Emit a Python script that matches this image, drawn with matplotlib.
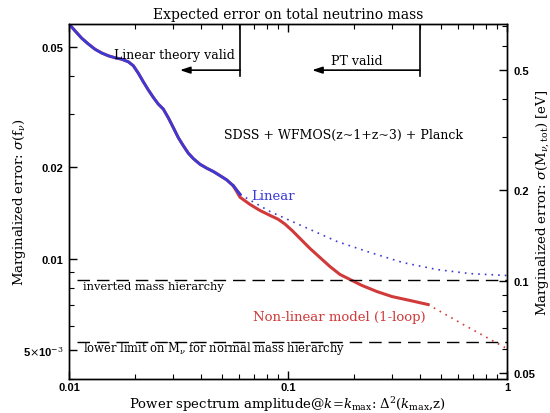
import numpy as np
import matplotlib
matplotlib.use("Agg")
import matplotlib.pyplot as plt
from matplotlib.ticker import FixedLocator, FixedFormatter, LogLocator, NullFormatter

# shared part of both forecasts (linear == 1-loop below k_max ~ 0.06)
x_common = [0.0100, 0.01065, 0.01143, 0.01225, 0.01314, 0.01410, 0.01512, 0.01622,
            0.01740, 0.01866, 0.01966, 0.02072, 0.02184, 0.02302, 0.02426, 0.02557,
            0.02695, 0.02841, 0.02994, 0.03156, 0.03327, 0.03506, 0.03696, 0.03964,
            0.04253, 0.04559, 0.04892, 0.05250, 0.05627, 0.06037]
f_common = [0.0596, 0.0566, 0.0535, 0.0512, 0.0492, 0.0478, 0.0468, 0.0461,
            0.0456, 0.0447, 0.0434, 0.0410, 0.0384, 0.0361, 0.0341, 0.0324,
            0.0312, 0.0292, 0.0271, 0.0251, 0.0236, 0.0223, 0.0214, 0.0205,
            0.0199, 0.0194, 0.0188, 0.0182, 0.0174, 0.0163]

# linear theory extrapolated beyond its validity (dotted)
x_lin_ext = [0.06037, 0.0827, 0.1171, 0.1674, 0.2368, 0.3350, 0.4790, 0.6777, 1.0]
f_lin_ext = [0.0163, 0.01431, 0.01278, 0.01139, 0.01048, 0.00970, 0.00920, 0.00892, 0.00879]

# 1-loop PT model: solid up to 0.4, dotted beyond
x_nl = [0.05627, 0.06037, 0.06707, 0.07450, 0.08276, 0.09001, 0.09690, 0.1043, 0.1134,
        0.1260, 0.1400, 0.1555, 0.1728, 0.1919, 0.2177, 0.2549, 0.2985, 0.3606, 0.4358]
f_nl = [0.0174, 0.01595, 0.01510, 0.01442, 0.01389, 0.01350, 0.01300, 0.01239, 0.01166,
        0.01080, 0.01008, 0.00941, 0.00886, 0.00853, 0.00815, 0.00778, 0.00749, 0.00727,
        0.00705]
x_nl_ext = [0.4358, 0.6430, 1.0]
f_nl_ext = [0.00705, 0.00601, 0.00504]

F_INVERTED = 0.00852
F_NORMAL = 0.00530
K_LINEAR = 0.0605
K_PT = 0.40
MNU_PER_FNU = 11.9  # 94 eV * Omega_m h^2

BLUE = "#3a3ad6"
RED = "#d03a3a"

plt.rcParams["mathtext.fontset"] = "dejavuserif"
serif = "DejaVu Serif"
tickfont = dict(family="Liberation Sans", weight="bold", size=8)

fig = plt.figure(figsize=(5.5, 4.14), dpi=100)
ax = fig.add_axes([69 / 550, 1 - 380 / 414, 438 / 550, 355 / 414])
ax.set_xscale("log")
ax.set_yscale("log")
ax.set_xlim(0.01, 1.0)
ax.set_ylim(0.004, 0.0596)

ax.plot(x_common, f_common, color=RED, lw=2.2)
ax.plot(x_nl, f_nl, color=RED, lw=2.2)
ax.plot(x_nl_ext, f_nl_ext, color=RED, lw=1.2, ls=(0, (1, 3)))
ax.plot(x_common, f_common, color=BLUE, lw=2.0)
ax.plot(x_lin_ext, f_lin_ext, color=BLUE, lw=1.2, ls=(0, (1, 3)))

for f in (F_INVERTED, F_NORMAL):
    ax.plot([0.0109, 1.0], [f, f], color="black", lw=1.0, ls=(0, (9, 5)))

# validity markers
for k, xt in ((K_LINEAR, 0.0321), (K_PT, 0.1288)):
    ax.plot([k, k], [1.0, 0.854], color="black", lw=1.2, transform=ax.get_xaxis_transform())
    ax.annotate("", xy=(xt, 0.870), xytext=(k, 0.870), xycoords=ax.get_xaxis_transform(),
                arrowprops=dict(arrowstyle="-|>,head_length=0.6,head_width=0.2",
                                color="black", lw=1.2, shrinkA=0, shrinkB=0))
ax.text(0.240, 0.915, "Linear theory valid", transform=ax.transAxes, ha="center", va="center",
        family=serif, fontsize=9)
ax.text(0.658, 0.896, "PT valid", transform=ax.transAxes, ha="center", va="center",
        family=serif, fontsize=9)
ax.text(0.626, 0.690, "SDSS + WFMOS(z~1+z~3) + Planck", transform=ax.transAxes,
        ha="center", va="center", family=serif, fontsize=9)
ax.text(0.416, 0.518, "Linear", transform=ax.transAxes, ha="left", va="center",
        family=serif, fontsize=9.5, color=BLUE)
ax.text(0.420, 0.175, "Non-linear model (1-loop)", transform=ax.transAxes, ha="left",
        va="center", family=serif, fontsize=9.5, color=RED)
ax.text(0.032, 0.262, "inverted mass hierarchy", transform=ax.transAxes, ha="left",
        va="center", family=serif, fontsize=8.2)
ax.text(0.032, 0.090, r"lower limit on M$_\nu$ for normal mass hierarchy",
        transform=ax.transAxes, ha="left", va="center", family=serif, fontsize=8.3)

ax.set_title("Expected error on total neutrino mass", family=serif, fontsize=10, pad=4)
ax.set_xlabel(r"Power spectrum amplitude@$k$=$k_{\rm max}$: $\Delta^2$($k_{\rm max}$,z)",
              family=serif, fontsize=9.5, va="center")
ax.xaxis.set_label_coords(0.5, -0.069)
ax.set_ylabel(r"Marginalized error: $\sigma$(f$_\nu$)", family=serif, fontsize=9.5,
              va="center")
ax.yaxis.set_label_coords(-0.112, 0.5)

ax.xaxis.set_major_locator(FixedLocator([0.01, 0.1, 1.0]))
ax.xaxis.set_major_formatter(FixedFormatter(["0.01", "0.1", "1"]))
ax.xaxis.set_minor_locator(LogLocator(base=10, subs=np.arange(2, 10)))
ax.xaxis.set_minor_formatter(NullFormatter())
ax.yaxis.set_major_locator(FixedLocator([0.005, 0.01, 0.02, 0.05]))
ax.yaxis.set_major_formatter(FixedFormatter([r"5$\times$10$^{-3}$", "0.01", "0.02", "0.05"]))
ax.yaxis.set_minor_locator(LogLocator(base=10, subs=np.arange(2, 10)))
ax.yaxis.set_minor_formatter(NullFormatter())
ax.tick_params(which="both", direction="in", top=True, right=False)
ax.tick_params(which="major", length=6, width=1, pad=4)
ax.tick_params(axis="x", which="major", pad=2.5)
ax.tick_params(which="minor", length=3.5, width=0.8)
for lab in ax.get_xticklabels() + ax.get_yticklabels():
    lab.set(**tickfont)

ax2 = ax.twinx()
ax2.set_yscale("log")
ax2.set_ylim(0.004 * MNU_PER_FNU, 0.0596 * MNU_PER_FNU)
ax2.yaxis.set_major_locator(FixedLocator([0.05, 0.1, 0.2, 0.5]))
ax2.yaxis.set_major_formatter(FixedFormatter(["0.05", "0.1", "0.2", "0.5"]))
ax2.yaxis.set_minor_locator(LogLocator(base=10, subs=np.arange(2, 10)))
ax2.yaxis.set_minor_formatter(NullFormatter())
ax2.tick_params(which="both", direction="in")
ax2.tick_params(which="major", length=6, width=1, pad=5)
ax2.tick_params(which="minor", length=3.5, width=0.8)
for lab in ax2.get_yticklabels():
    lab.set(**tickfont)
ax2.set_ylabel(r"Marginalized error: $\sigma$(M$_{\nu,\rm tot}$) [eV]", family=serif,
               fontsize=9.5, va="center")
ax2.yaxis.set_label_coords(1.082, 0.5)

for a in (ax, ax2):
    for s in a.spines.values():
        s.set_linewidth(1.0)

fig.savefig("out.png", dpi=100)
